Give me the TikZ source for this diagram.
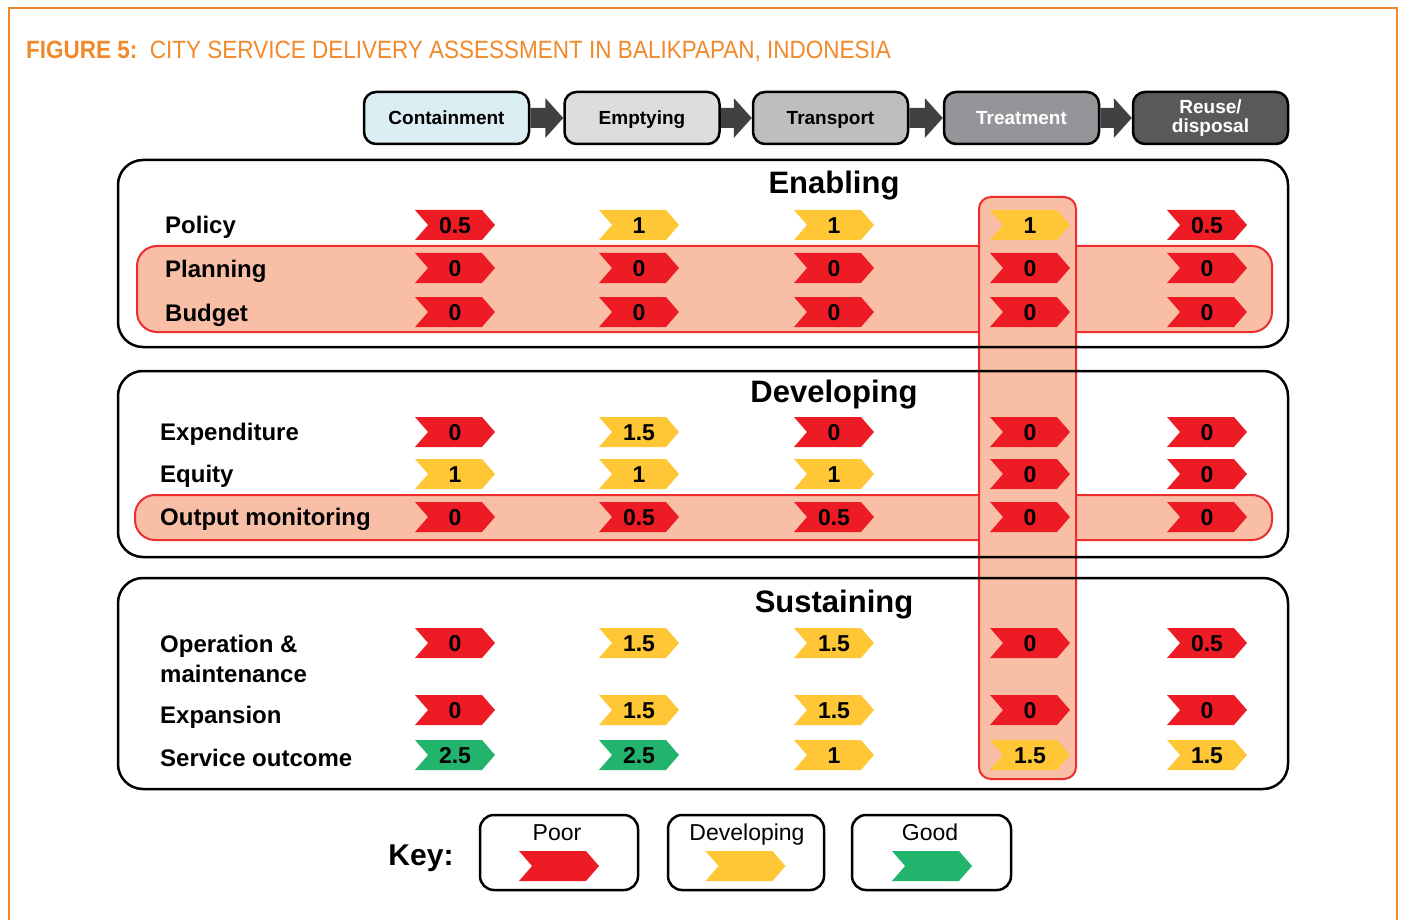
\documentclass[tikz,border=0pt]{standalone}
\usepackage{fontspec}
\setmainfont{Liberation Sans}
\newfontfamily\narrowfont[FakeStretch=0.9]{Liberation Sans}
\usetikzlibrary{positioning,shapes.symbols}
\definecolor{frameorange}{HTML}{F0892B}
\definecolor{poorred}{HTML}{ED1C24}
\definecolor{devyellow}{HTML}{FFC735}
\definecolor{goodgreen}{HTML}{22B36C}
\definecolor{bandfill}{HTML}{F9BFA6}
\definecolor{bandline}{HTML}{EE2D2E}
\definecolor{arrowgrey}{HTML}{414042}
\tikzset{stage/.style={draw,line width=2.5pt,rounded corners=12pt,minimum height=52pt,minimum width=155pt,inner sep=0pt,align=center,text height=14pt,text depth=0pt,font=\fontsize{19}{19}\selectfont\bfseries}}
\tikzset{stagearrow/.style={fill=arrowgrey}}
\tikzset{panel/.style={line width=2.5pt,rounded corners=25pt}}
\tikzset{band/.style={draw=bandline,fill=bandfill,line width=2pt,rounded corners=20pt}}
\tikzset{rowlabel/.style={anchor=west,inner sep=0pt,text height=17pt,text depth=5pt,align=left,font=\fontsize{24}{30}\selectfont\bfseries}}
\tikzset{heading/.style={text height=22pt,text depth=6pt,font=\fontsize{31}{31}\selectfont\bfseries}}
\tikzset{score/.style={signal,signal from=west,signal to=east,signal pointer angle=98,minimum width=80pt,minimum height=30pt,inner sep=0pt,text height=16.5pt,text depth=0pt,font=\fontsize{23}{23}\selectfont\bfseries}}
\tikzset{poor/.style={score,fill=poorred}}
\tikzset{fair/.style={score,fill=devyellow}}
\tikzset{good/.style={score,fill=goodgreen}}
\tikzset{keybox/.style={draw,line width=2.5pt,rounded corners=14pt}}
\tikzset{keytext/.style={text height=17pt,text depth=5pt,font=\fontsize{23}{23}\selectfont}}

\begin{document}
\begin{tikzpicture}[x=1pt,y=-1pt]
  \useasboundingbox (0,0) rectangle (1403,920);
  \draw[frameorange,line width=2.5pt] (9,920) -- (9,8) -- (1397,8) -- (1397,920);
  \node[anchor=west,inner sep=0pt,text=frameorange,font=\fontsize{25}{25}\narrowfont] (title) at (26,51)
    {\textbf{FIGURE 5:}\ \ CITY SERVICE DELIVERY ASSESSMENT IN BALIKPAPAN, INDONESIA};

  % service chain
  \node[stage,fill={rgb,255:red,219;green,238;blue,243},minimum width=165pt] (cont) at (446.5,118) {Containment};
  \node[stage,fill={rgb,255:red,220;green,221;blue,222}] (empt) at (642,118) {Emptying};
  \node[stage,fill={rgb,255:red,188;green,190;blue,192}] (tran) at (830.5,118) {Transport};
  \node[stage,fill={rgb,255:red,147;green,149;blue,152},text=white] (trea) at (1021.5,118) {Treatment};
  \node[stage,fill={rgb,255:red,88;green,89;blue,91},text=white,text height=,text depth=,inner ysep=0pt] (reus) at (1210.5,118) {\rule{0pt}{4pt}Reuse/\\disposal};
  \path[stagearrow] ([yshift=10pt]cont.east) -- ([xshift=-18pt,yshift=10pt]empt.west) -- ([xshift=-18pt,yshift=20pt]empt.west)
    -- (empt.west) -- ([xshift=-18pt,yshift=-20pt]empt.west) -- ([xshift=-18pt,yshift=-10pt]empt.west) -- ([yshift=-10pt]cont.east) -- cycle;
  \path[stagearrow] ([yshift=10pt]empt.east) -- ([xshift=-18pt,yshift=10pt]tran.west) -- ([xshift=-18pt,yshift=20pt]tran.west)
    -- (tran.west) -- ([xshift=-18pt,yshift=-20pt]tran.west) -- ([xshift=-18pt,yshift=-10pt]tran.west) -- ([yshift=-10pt]empt.east) -- cycle;
  \path[stagearrow] ([yshift=10pt]tran.east) -- ([xshift=-18pt,yshift=10pt]trea.west) -- ([xshift=-18pt,yshift=20pt]trea.west)
    -- (trea.west) -- ([xshift=-18pt,yshift=-20pt]trea.west) -- ([xshift=-18pt,yshift=-10pt]trea.west) -- ([yshift=-10pt]tran.east) -- cycle;
  \path[stagearrow] ([yshift=10pt]trea.east) -- ([xshift=-18pt,yshift=10pt]reus.west) -- ([xshift=-18pt,yshift=20pt]reus.west)
    -- (reus.west) -- ([xshift=-18pt,yshift=-20pt]reus.west) -- ([xshift=-18pt,yshift=-10pt]reus.west) -- ([yshift=-10pt]trea.east) -- cycle;

  % highlighted rows and column
  \draw[band] (137,246) rectangle (1272,332);
  \draw[band] (135,495) rectangle (1272,540);
  \fill[bandfill,rounded corners=12pt] (979,197) rectangle (1076,779);
  \draw[bandline,line width=2pt,rounded corners=12pt] (979,197) rectangle (1076,779);

  % panels
  \draw[panel] (118,160) rectangle (1288,347);
  \draw[panel] (118,371) rectangle (1288,557);
  \draw[panel] (118,578) rectangle (1288,789);
  \node[heading] (enab) at (834,186) {Enabling};
  \node[heading] (deve) at (834,394) {Developing};
  \node[heading] (sust) at (834,604) {Sustaining};

  % enabling
  \node[rowlabel] (pol) at (165,228) {Policy};
  \node[rowlabel] (pla) at (165,271) {Planning};
  \node[rowlabel] (bud) at (165,315) {Budget};
  \node[poor] (pol1) at (455,225) {0.5};
  \node[fair] (pol2) at (639,225) {1};
  \node[fair] (pol3) at (834,225) {1};
  \node[fair] (pol4) at (1030,225) {1};
  \node[poor] (pol5) at (1207,225) {0.5};
  \node[poor] (pla1) at (455,268) {0};
  \node[poor] (pla2) at (639,268) {0};
  \node[poor] (pla3) at (834,268) {0};
  \node[poor] (pla4) at (1030,268) {0};
  \node[poor] (pla5) at (1207,268) {0};
  \node[poor] (bud1) at (455,312) {0};
  \node[poor] (bud2) at (639,312) {0};
  \node[poor] (bud3) at (834,312) {0};
  \node[poor] (bud4) at (1030,312) {0};
  \node[poor] (bud5) at (1207,312) {0};

  % developing
  \node[rowlabel] (exp) at (160,434) {Expenditure};
  \node[rowlabel] (equ) at (160,476) {Equity};
  \node[rowlabel] (out) at (160,519) {Output monitoring};
  \node[poor] (exp1) at (455,432) {0};
  \node[fair] (exp2) at (639,432) {1.5};
  \node[poor] (exp3) at (834,432) {0};
  \node[poor] (exp4) at (1030,432) {0};
  \node[poor] (exp5) at (1207,432) {0};
  \node[fair] (equ1) at (455,474) {1};
  \node[fair] (equ2) at (639,474) {1};
  \node[fair] (equ3) at (834,474) {1};
  \node[poor] (equ4) at (1030,474) {0};
  \node[poor] (equ5) at (1207,474) {0};
  \node[poor] (out1) at (455,517) {0};
  \node[poor] (out2) at (639,517) {0.5};
  \node[poor] (out3) at (834,517) {0.5};
  \node[poor] (out4) at (1030,517) {0};
  \node[poor] (out5) at (1207,517) {0};

  % sustaining
  \node[rowlabel,text height=,text depth=] (oam) at (160,659) {Operation \&\\maintenance};
  \node[rowlabel] (ext) at (160,717) {Expansion};
  \node[rowlabel] (svc) at (160,760) {Service outcome};
  \node[poor] (oam1) at (455,643) {0};
  \node[fair] (oam2) at (639,643) {1.5};
  \node[fair] (oam3) at (834,643) {1.5};
  \node[poor] (oam4) at (1030,643) {0};
  \node[poor] (oam5) at (1207,643) {0.5};
  \node[poor] (ext1) at (455,710) {0};
  \node[fair] (ext2) at (639,710) {1.5};
  \node[fair] (ext3) at (834,710) {1.5};
  \node[poor] (ext4) at (1030,710) {0};
  \node[poor] (ext5) at (1207,710) {0};
  \node[good] (svc1) at (455,755) {2.5};
  \node[good] (svc2) at (639,755) {2.5};
  \node[fair] (svc3) at (834,755) {1};
  \node[fair] (svc4) at (1030,755) {1.5};
  \node[fair] (svc5) at (1207,755) {1.5};

  % key
  \node[text height=22pt,text depth=0pt,font=\fontsize{30}{30}\selectfont\bfseries] (key) at (421,854) {Key:};
  \draw[keybox] (480,815) rectangle (638,890);
  \draw[keybox] (668,815) rectangle (824,890);
  \draw[keybox] (852,815) rectangle (1011,890);
  \node[keytext] (kpoor) at (557,834) {Poor};
  \node[keytext] (kfair) at (747,834) {Developing};
  \node[keytext] (kgood) at (930,834) {Good};
  \node[poor] (kpoorc) at (559,866) {};
  \node[fair] (kfairc) at (745.5,866) {};
  \node[good] (kgoodc) at (932,866) {};
\end{tikzpicture}
\end{document}
